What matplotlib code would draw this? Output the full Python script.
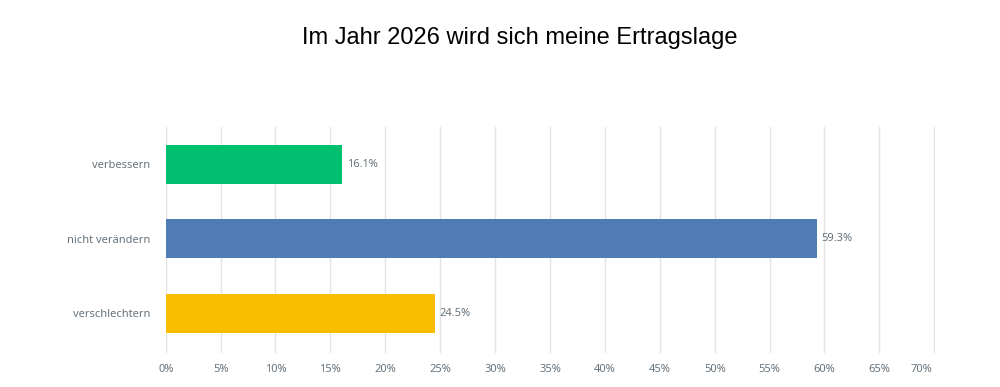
import matplotlib.pyplot as plt

categories = ["verbessern", "nicht verändern", "verschlechtern"]
values = [16.1, 59.3, 24.5]
colors = ["#00BF6F", "#507CB6", "#F9BE00"]
ticks = list(range(0, 75, 5))
tick_labels = [f"{t}%" for t in ticks]

text_col = "#67737C"
plt.rcParams["font.family"] = ["Noto Sans", "DejaVu Sans"]

fig = plt.figure(figsize=(10, 3.87), dpi=100)
ax = fig.add_axes([0.1657, 1 - 353 / 387, 0.7696, (353 - 127) / 387])

y = range(len(categories))
ax.barh(y, values, height=0.52, color=colors, zorder=2)
for yi, v in zip(y, values):
    ax.text(v + 0.45, yi, f"{v}%", va="center", ha="left", fontsize=8, color=text_col)

ax.set_xlim(0, 70.1)
ax.set_ylim(2.53, -0.5)
ax.set_xticks(ticks)
# last label sits slightly left of its gridline in the original
ax.set_xticklabels(tick_labels[:-1] + [""])
ax.text(68.8, -11.5 / 226, tick_labels[-1], transform=ax.get_xaxis_transform(),
        ha="center", va="top", fontsize=8, color=text_col)
ax.set_yticks(list(y))
ax.set_yticklabels(categories)
ax.tick_params(axis="both", length=0, labelsize=8, labelcolor=text_col)
ax.tick_params(axis="y", pad=11)
ax.tick_params(axis="x", pad=8)
ax.xaxis.grid(True, color="#E3E3E3", linewidth=1, zorder=0)
ax.set_axisbelow(True)
for s in ax.spines.values():
    s.set_visible(False)

fig.text(0.52, 1 - 38 / 387, "Im Jahr 2026 wird sich meine Ertragslage",
         ha="center", va="center", fontsize=17, family="Liberation Sans", color="black")

fig.savefig("out.png", dpi=100)
